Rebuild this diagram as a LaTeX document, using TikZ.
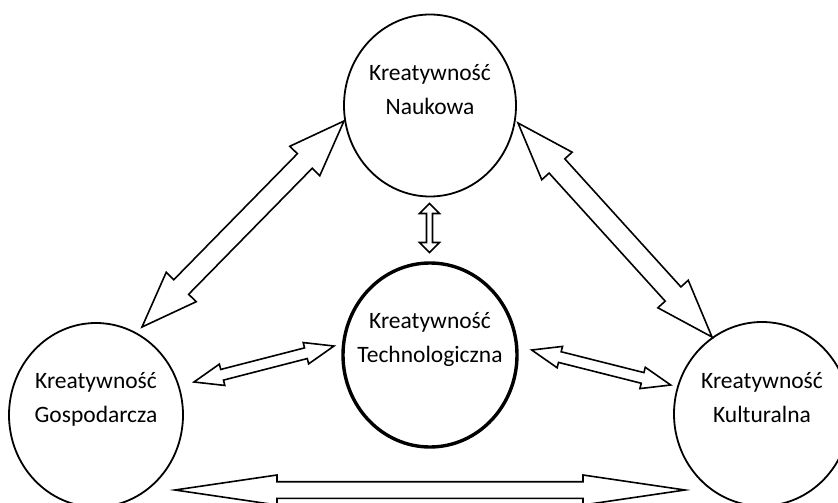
\documentclass[tikz,border=0pt]{standalone}
\usepackage{fontspec}
\setmainfont{Carlito}
\usetikzlibrary{shapes.geometric,calc}

\tikzset{
  bubble/.style={ellipse, draw, line width=1.8pt, minimum width=172pt,
                 minimum height=182pt, inner sep=0pt},
  hub/.style={bubble, line width=3.4pt},
  lbl/.style={font=\fontsize{23.5pt}{34pt}\selectfont, align=center, inner sep=0pt},
  blockarrow/.style={draw, line width=1.6pt, line join=miter, fill=white}
}

% Double-headed block arrow between two named points.
% #1,#2: tips; #3: head length; #4: head half-width; #5: shaft half-width
\newcommand{\linkarrow}[5]{%
  \coordinate (ba1) at ($(#1)!#3!(#2)$);
  \coordinate (ba2) at ($(#2)!#3!(#1)$);
  \draw[blockarrow] (#1) -- ($(ba1)!#4!90:(#2)$) -- ($(ba1)!#5!90:(#2)$)
    -- ($(ba2)!#5!-90:(#1)$) -- ($(ba2)!#4!-90:(#1)$) -- (#2)
    -- ($(ba2)!#4!90:(#1)$) -- ($(ba2)!#5!90:(#1)$)
    -- ($(ba1)!#5!-90:(#2)$) -- ($(ba1)!#4!-90:(#2)$) -- cycle;}

\begin{document}
\begin{tikzpicture}[x=1pt, y=-1pt]
  \useasboundingbox (0,0) rectangle (838,503);
  \clip (0,0) rectangle (838,503);

  % circles
  \node[bubble] (nauk) at (430,105.5) {};
  \node[hub, minimum width=174pt, minimum height=184pt] (tech) at (430,355) {};
  \node[bubble, minimum width=174pt, minimum height=184pt] (gosp) at (96,415) {};
  \node[bubble, minimum width=176pt, minimum height=184pt] (kult) at (762,414) {};

  % labels
  \node[lbl] (nauk-t) at ([yshift=16pt]nauk.center) {Kreatywność\\Naukowa};
  \node[lbl] (tech-t) at ([yshift=16pt]tech.center) {Kreatywność\\Technologiczna};
  \node[lbl] (gosp-t) at ([yshift=16pt]gosp.center) {Kreatywność\\Gospodarcza};
  \node[lbl] (kult-t) at ([yshift=16pt]kult.center) {Kreatywność\\Kulturalna};

  % arrow tips
  \coordinate (nauk-w) at (344,121);
  \coordinate (gosp-n) at (142,327);
  \coordinate (nauk-e) at (518,123);
  \coordinate (kult-n) at (712,337);
  \coordinate (nauk-s) at (429.5,203.5);
  \coordinate (tech-n) at (429.5,252.5);
  \coordinate (gosp-e) at (194,382);
  \coordinate (tech-w) at (334,346);
  \coordinate (tech-e) at (531.7,350);
  \coordinate (kult-w) at (670.7,385);
  \coordinate (gosp-s) at (175,490);
  \coordinate (kult-s) at (685,490);

  % connectors
  \linkarrow{nauk-w}{gosp-n}{56pt}{21pt}{10.4pt}
  \linkarrow{nauk-e}{kult-n}{58pt}{20.5pt}{10.6pt}
  \linkarrow{nauk-s}{tech-n}{10pt}{10pt}{3pt}
  \linkarrow{gosp-e}{tech-w}{29pt}{11pt}{5.5pt}
  \linkarrow{tech-e}{kult-w}{29pt}{11pt}{5.5pt}
  \linkarrow{gosp-s}{kult-s}{102pt}{15pt}{8.3pt}
\end{tikzpicture}
\end{document}
